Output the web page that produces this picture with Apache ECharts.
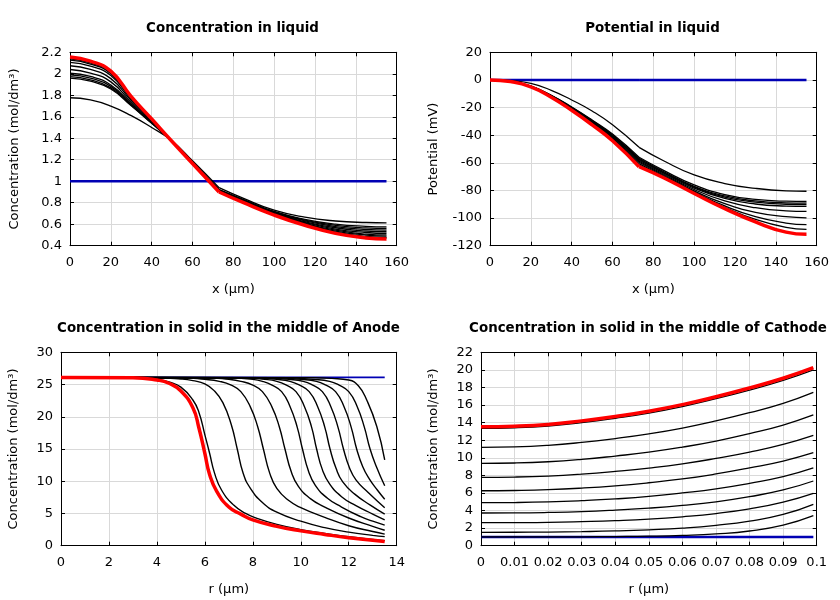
<!DOCTYPE html>
<html><head><meta charset="utf-8">
<script src="https://cdn.jsdelivr.net/npm/echarts@6/dist/echarts.min.js"></script>
<style>html,body{margin:0;padding:0;background:#fff}#c{width:840px;height:600px}</style>
</head><body><div id="c"></div><script>
// ---------- Panel 1: Concentration in liquid ----------
const liqX = [0,10,20,30,40,50,60,73,85,100,115,130,145,155];
const liqConcInit = [1,1,1,1,1,1,1,1,1,1,1,1,1,1];
const liqConcSteps = [
  [1.777,1.757,1.700,1.610,1.500,1.375,1.190,0.940,0.840,0.730,0.665,0.630,0.616,0.613],
  [1.960,1.932,1.858,1.702,1.539,1.373,1.178,0.921,0.830,0.719,0.646,0.601,0.580,0.575],
  [1.973,1.944,1.869,1.708,1.541,1.372,1.177,0.919,0.826,0.714,0.639,0.590,0.565,0.560],
  [1.990,1.960,1.883,1.715,1.545,1.372,1.176,0.918,0.822,0.710,0.631,0.578,0.551,0.545],
  [2.005,1.975,1.896,1.721,1.548,1.372,1.175,0.916,0.818,0.705,0.624,0.567,0.537,0.530],
  [2.040,2.007,1.925,1.736,1.556,1.371,1.173,0.912,0.814,0.701,0.616,0.555,0.523,0.515],
  [2.075,2.040,1.955,1.751,1.563,1.371,1.170,0.909,0.810,0.696,0.609,0.544,0.508,0.500],
  [2.107,2.071,1.983,1.765,1.570,1.371,1.168,0.905,0.807,0.693,0.604,0.536,0.499,0.490],
  [2.128,2.091,2.001,1.775,1.574,1.370,1.167,0.903,0.804,0.690,0.598,0.527,0.487,0.478],
  [2.140,2.102,2.012,1.781,1.577,1.370,1.166,0.902,0.802,0.687,0.594,0.521,0.480,0.470]
];
const liqConcFinal = [2.156,2.117,2.025,1.788,1.580,1.370,1.165,0.900,0.800,0.685,0.590,0.515,0.472,0.462];

// ---------- Panel 2: Potential in liquid ----------
const potX = [0,10,20,30,40,50,60,73,85,100,115,130,145,155];
const potInit = [0,0,0,0,0,0,0,0,0,0,0,0,0,0];
const potSteps = [
  [0,-0.5,-2.5,-7.5,-14.5,-22.5,-32.5,-48.8,-58.5,-68.8,-75,-78.5,-80.3,-80.6],
  [0,-1.1,-4.5,-11.2,-19.6,-29,-39.2,-56,-65.5,-76,-83,-86.5,-87.8,-88.0],
  [0,-1.1,-4.5,-11.3,-19.9,-29.4,-39.8,-56.8,-66.3,-77,-84,-87.6,-89,-89.2],
  [0,-1.1,-4.6,-11.4,-20.1,-29.7,-40.2,-57.4,-66.9,-77.6,-84.8,-88.5,-90,-90.2],
  [0,-1.1,-4.6,-11.6,-20.3,-30,-40.6,-58,-67.5,-78.3,-85.8,-89.8,-91.3,-91.6],
  [0,-1.1,-4.7,-11.7,-20.6,-30.4,-41.2,-58.8,-68.3,-79.3,-87.6,-92.5,-94.8,-95.2],
  [0,-1.1,-4.7,-11.9,-20.9,-30.8,-41.8,-59.6,-69,-80.3,-89.6,-95.8,-99,-99.8],
  [0,-1.2,-4.8,-12.1,-21.2,-31.4,-42.5,-60.6,-69.8,-81,-91.2,-99,-103.6,-104.8],
  [0,-1.2,-4.9,-12.3,-21.6,-31.9,-43.2,-61.6,-70.2,-81.6,-92.2,-101,-106.8,-108.2]
];
const potFinal = [0,-1.2,-5,-12.5,-22,-32.5,-44,-62.8,-70.8,-82.2,-93.2,-102.8,-110.2,-111.8];

// ---------- Panel 3: Anode solid (r, c) ----------
const anodeInit = [[0,26.1],[13.5,26.1]];
const anodeSteps = [
  [[0,26.1],[3,26.08],[4,25.8],[4.5,25.4],[5,24.6],[5.5,22.6],[5.75,20.7],[6.0,17.2],[6.2,14.3],[6.4,11.3],[6.7,8.6],[7.2,6.3],[7.7,5.0],[8.2,4.2],[9,3.3],[10,2.5],[11,1.9],[12,1.4],[13,0.97],[13.5,0.78]],
  [[0,26.1],[4,26.05],[5,25.85],[5.5,25.6],[6.0,25.1],[6.4,24.0],[6.75,22.2],[7.1,18.8],[7.35,15],[7.6,11.2],[7.9,8.9],[8.4,6.7],[9,5.2],[10,3.8],[11,2.8],[12,2.1],[13,1.6],[13.5,1.4]],
  [[0,26.1],[5,26.05],[6,25.8],[6.6,25.5],[7.1,24.9],[7.5,23.9],[7.9,21.5],[8.2,18.5],[8.44,15],[8.7,11.3],[9.0,8.9],[9.5,7.0],[10,5.9],[11,4.4],[12,3.1],[13,2.2],[13.5,1.8]],
  [[0,26.1],[6,26.05],[7,25.8],[7.5,25.5],[8.0,24.9],[8.4,23.9],[8.8,21.5],[9.1,18.5],[9.34,15],[9.6,11.5],[9.9,9.2],[10.4,7.3],[11,6.0],[12,4.3],[13,3.0],[13.5,2.4]],
  [[0,26.1],[7,26.05],[8,25.8],[8.4,25.5],[8.8,24.9],[9.2,23.9],[9.55,21.6],[9.85,18.4],[10.07,15],[10.32,11.6],[10.6,9.4],[11.1,7.4],[11.7,6.0],[12.5,4.5],[13,3.8],[13.5,3.2]],
  [[0,26.1],[7.5,26.05],[8.5,25.8],[9.0,25.5],[9.4,24.9],[9.8,23.9],[10.15,21.6],[10.45,18.4],[10.66,15],[10.9,11.8],[11.2,9.6],[11.7,7.6],[12.3,6.2],[13,4.9],[13.5,4.0]],
  [[0,26.1],[8,26.05],[9,25.8],[9.55,25.5],[9.95,24.9],[10.35,23.9],[10.7,21.6],[11.0,18.4],[11.22,15],[11.47,12.0],[11.75,9.9],[12.25,8.0],[12.9,6.3],[13.5,4.9]],
  [[0,26.1],[8.5,26.05],[9.5,25.8],[10.1,25.5],[10.5,24.9],[10.9,23.9],[11.25,21.6],[11.55,18.4],[11.78,15],[12.03,12.1],[12.3,10.2],[12.8,8.3],[13.5,5.9]],
  [[0,26.1],[9,26.05],[10,25.8],[10.65,25.5],[11.05,24.9],[11.45,23.9],[11.8,21.6],[12.1,18.4],[12.33,15],[12.58,12.3],[12.85,10.4],[13.2,8.6],[13.5,7.2]],
  [[0,26.1],[9.5,26.05],[10.5,25.8],[11.2,25.5],[11.6,24.9],[12.0,23.9],[12.35,21.6],[12.65,18.4],[12.89,15],[13.15,12.3],[13.5,9.3]],
  [[0,26.1],[10.5,26.05],[11.3,25.95],[12.0,25.7],[12.4,24.8],[12.75,22.6],[13.17,18.5],[13.5,13.3]]
];
const anodeFinal = [[0,26.1],[3,26.05],[4,25.7],[4.5,25.2],[5,24.0],[5.5,21.4],[5.75,18.3],[6.0,14.3],[6.2,11.0],[6.5,8.4],[7,6.0],[7.5,4.9],[8,4.0],[9,3.0],[10,2.3],[11,1.75],[12,1.25],[13,0.85],[13.5,0.65]];

// ---------- Panel 4: Cathode solid ----------
const cathR = [0,0.01,0.02,0.03,0.04,0.05,0.06,0.07,0.08,0.09,0.099];
const cathInit = [1,1,1,1,1,1,1,1,1,1,1];
const cathSteps = [
  [13.35,13.41,13.61,14.0,14.5,15.09,15.83,16.72,17.71,18.8,19.99],
  [11.19,11.24,11.42,11.75,12.19,12.72,13.38,14.19,15.13,16.2,17.45],
  [9.37,9.41,9.55,9.82,10.2,10.64,11.21,11.9,12.75,13.72,14.87],
  [7.78,7.81,7.92,8.14,8.45,8.83,9.31,9.93,10.65,11.53,12.56],
  [6.25,6.28,6.37,6.55,6.81,7.16,7.59,8.16,8.85,9.63,10.58],
  [4.89,4.91,4.98,5.12,5.32,5.6,6.0,6.47,7.1,7.85,8.84],
  [3.72,3.73,3.78,3.88,4.05,4.27,4.58,4.99,5.58,6.34,7.36],
  [2.62,2.63,2.66,2.74,2.85,3.02,3.29,3.66,4.19,4.96,5.96],
  [1.52,1.53,1.55,1.6,1.68,1.81,2.0,2.32,2.8,3.56,4.71],
  [1.0,1.0,1.005,1.015,1.04,1.08,1.17,1.34,1.67,2.33,3.41]
];
const cathFinal = [13.54,13.6,13.8,14.2,14.7,15.3,16.05,16.95,17.95,19.05,20.25];

// ---------- Text ----------
const titles = ['Concentration in liquid','Potential in liquid','Concentration in solid in the middle of Anode','Concentration in solid in the middle of Cathode'];
const xNames = ['x (µm)','x (µm)','r (µm)','r (µm)'];
const yNames = ['Concentration (mol/dm³)','Potential (mV)','Concentration (mol/dm³)','Concentration (mol/dm³)'];

// ---------- Layout ----------
const FONT = 'DejaVu Sans';
const panels = [
  {left:70, top:52.3, width:326.7, height:193.4, xmin:0, xmax:160, xint:20, ymin:0.4, ymax:2.2, yint:0.2, yGap:49, tx:227.5, ty:17},
  {left:490, top:52.3, width:326.7, height:193.4, xmin:0, xmax:160, xint:20, ymin:-120, ymax:20, yint:20, yGap:49.5, tx:647.5, ty:17},
  {left:61, top:352.3, width:335.7, height:193.4, xmin:0, xmax:14, xint:2, ymin:0, ymax:30, yint:5, yGap:40.5, tx:223.5, ty:317},
  {left:481, top:352.3, width:335.7, height:193.4, xmin:0, xmax:0.1, xint:0.01, ymin:0, ymax:22, yint:2, yGap:40.7, tx:643, ty:317}
];

const grids = [], xAxes = [], yAxes = [], titleOpts = [], series = [];
const tick = {show:true, inside:true, length:4, lineStyle:{color:'#000', width:1}};
const line = {show:true, onZero:false, lineStyle:{color:'#000', width:1}};
const lbl = {color:'#000', fontSize:13, fontFamily:FONT};
panels.forEach((p, i) => {
  grids.push({left:p.left, top:p.top, width:p.width, height:p.height});
  xAxes.push({type:'value', gridIndex:i, position:'bottom', min:p.xmin, max:p.xmax, interval:p.xint,
    axisLine:line, axisTick:tick, axisLabel:Object.assign({margin:10}, lbl),
    splitLine:{show:true, lineStyle:{color:'#d9d9d9', width:1}},
    name:xNames[i], nameLocation:'middle', nameGap:37, nameTextStyle:lbl});
  xAxes.push({type:'value', gridIndex:i, position:'top', min:p.xmin, max:p.xmax, interval:p.xint,
    axisLine:line, axisTick:tick, axisLabel:{show:false}, splitLine:{show:false}});
  yAxes.push({type:'value', gridIndex:i, position:'left', min:p.ymin, max:p.ymax, interval:p.yint,
    axisLine:line, axisTick:tick, axisLabel:Object.assign({margin:8}, lbl),
    splitLine:{show:true, lineStyle:{color:'#d9d9d9', width:1}},
    name:yNames[i], nameLocation:'middle', nameGap:p.yGap, nameTextStyle:lbl});
  yAxes.push({type:'value', gridIndex:i, position:'right', min:p.ymin, max:p.ymax, interval:p.yint,
    axisLine:line, axisTick:tick, axisLabel:{show:false}, splitLine:{show:false}});
  titleOpts.push({text:titles[i], left:p.tx, top:p.ty, textAlign:'center',
    textStyle:{fontFamily:FONT, fontSize:13.4, fontWeight:'bold', color:'#000'}});
});

function addLine(gi, data, color, width, z) {
  series.push({type:'line', xAxisIndex:2*gi, yAxisIndex:2*gi, data:data, showSymbol:false, symbol:'none',
    smooth:0.5, z:z, silent:true, animation:false,
    lineStyle:{color:color, width:width}});
}
function zip(xs, ys) { return xs.map((x, k) => [x, ys[k]]); }
const KINK = 7;
function addKinked(gi, xs, ys, color, width, z) {
  const pts = zip(xs, ys);
  addLine(gi, pts.slice(0, KINK + 1), color, width, z);
  addLine(gi, pts.slice(KINK), color, width, z);
}
const BLUE = '#0000b4', RED = '#ff0000', BLACK = '#000000';

// panel 1
addKinked(0, liqX, liqConcInit, BLUE, 2.5, 2);
liqConcSteps.forEach(s => addKinked(0, liqX, s, BLACK, 1.3, 3));
addKinked(0, liqX, liqConcFinal, RED, 3.5, 4);
// panel 2
addKinked(1, potX, potInit, BLUE, 2.5, 2);
potSteps.forEach(s => addKinked(1, potX, s, BLACK, 1.3, 3));
addKinked(1, potX, potFinal, RED, 3.5, 4);
// panel 3
addLine(2, anodeInit, BLUE, 1.8, 2);
anodeSteps.forEach(s => addLine(2, s, BLACK, 1.4, 3));
addLine(2, anodeFinal, RED, 3.5, 4);
// panel 4
addLine(3, zip(cathR, cathInit), BLUE, 2.5, 2);
cathSteps.forEach(s => addLine(3, zip(cathR, s), BLACK, 1.3, 3));
addLine(3, zip(cathR, cathFinal), RED, 3.5, 4);

const chart = echarts.init(document.getElementById('c'), null, {renderer:'canvas'});
chart.setOption({
  backgroundColor:'#ffffff', animation:false,
  title:titleOpts, grid:grids, xAxis:xAxes, yAxis:yAxes, series:series
});
</script></body></html>
